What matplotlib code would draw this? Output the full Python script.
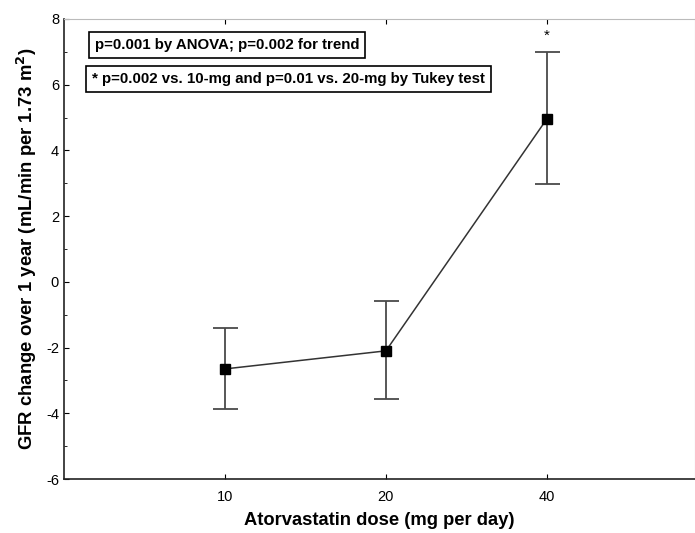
import numpy as np
import matplotlib.pyplot as plt
from matplotlib.ticker import MultipleLocator

doses = ["10", "20", "40"]
gfr_change = [-2.65, -2.10, 4.96]
err_low = [1.22, 1.46, 1.98]
err_high = [1.25, 1.52, 2.04]
star_y = 7.5

plt.rcParams['font.family'] = ['Liberation Sans', 'DejaVu Sans']
plt.rcParams['axes.unicode_minus'] = False

fig = plt.figure(figsize=(6.95, 5.33), dpi=100)
ax = fig.add_axes([0.092, 0.1013, 0.908, 0.8631])

x = np.arange(1, len(doses) + 1)
ax.errorbar(x, gfr_change, yerr=[err_low, err_high], fmt="none",
            ecolor="#4a4a4a", elinewidth=1.3, capsize=9, capthick=1.3, zorder=2)
ax.plot(x, gfr_change, color="#333333", lw=1.1, zorder=3)
ax.plot(x, gfr_change, "s", color="black", ms=7, zorder=4)
ax.text(x[2], star_y, "*", ha="center", va="center", fontsize=11)

ax.set_xlim(0, 3.92)
ax.set_ylim(-6, 8)
ax.set_xticks(x)
ax.set_xticklabels(doses, fontsize=10.5)
ax.yaxis.set_major_locator(MultipleLocator(2))
ax.yaxis.set_minor_locator(MultipleLocator(1))
ax.tick_params(axis="both", direction="in", top=True, labelsize=10.5)
ax.tick_params(axis="y", which="minor", direction="in", length=2)
ax.tick_params(axis="x", pad=8)

for s in ["left", "bottom"]:
    ax.spines[s].set_color("#222222")
    ax.spines[s].set_linewidth(1.2)
ax.spines["top"].set_color("#bbbbbb")
ax.spines["right"].set_color("#bbbbbb")

ax.set_xlabel("Atorvastatin dose (mg per day)", fontsize=13.2, fontweight="bold", labelpad=6)
ax.set_ylabel("GFR change over 1 year (mL/min per 1.73 m$\\mathbf{^2}$)",
              fontsize=13.3, fontweight="bold", labelpad=5)

box = dict(boxstyle="square,pad=0.4", fc="white", ec="black", lw=1.2)
ax.text(0.19, 7.22, "p=0.001 by ANOVA; p=0.002 for trend", fontsize=10.8,
        fontweight="bold", va="center", ha="left", bbox=box)
ax.text(0.175, 6.16, "* p=0.002 vs. 10-mg and p=0.01 vs. 20-mg by Tukey test", fontsize=10.8,
        fontweight="bold", va="center", ha="left", bbox=box)

fig.savefig("out.png", dpi=100)
